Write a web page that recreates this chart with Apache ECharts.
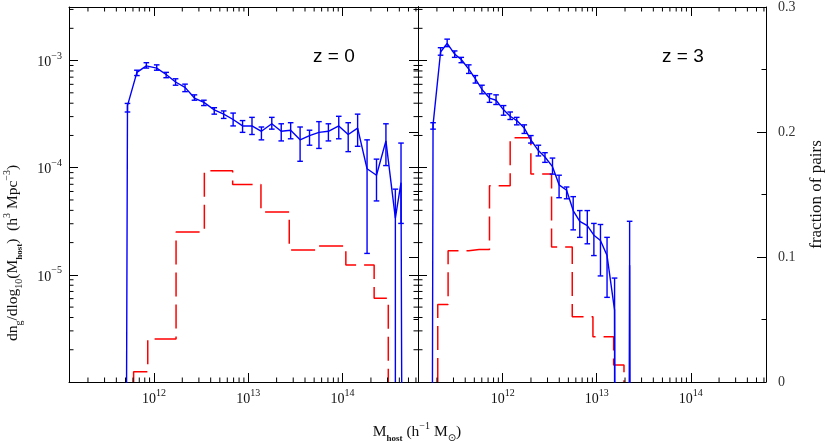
<!DOCTYPE html>
<html><head><meta charset="utf-8">
<script src="https://cdn.jsdelivr.net/npm/echarts@6/dist/echarts.min.js"></script>
<style>html,body{margin:0;padding:0;background:#fff}#c{width:830px;height:444px}</style>
</head><body><div id="c"></div>
<script>
// ---------- data (log10 values; null = empty bin / unbounded) ----------
const z0LogMass    = [11.62, 11.72, 11.82, 11.92, 12.03, 12.13, 12.23, 12.33, 12.43, 12.53, 12.64, 12.74, 12.84, 12.94, 13.04, 13.14, 13.25, 13.35, 13.45, 13.55, 13.65, 13.75, 13.85, 13.96, 14.06, 14.16, 14.26, 14.36, 14.46, 14.56, 14.62, 14.72];
const z0LogDensity = [null, -3.42, -3.11, -3.05, -3.07, -3.13, -3.20, -3.25, -3.35, -3.39, -3.46, -3.50, -3.55, -3.61, -3.61, -3.66, -3.59, -3.66, -3.65, -3.74, -3.70, -3.67, -3.66, -3.61, -3.69, -3.63, -4.01, -4.07, -3.75, -4.47, -4.14, null];
const z0LogUpper   = [null, -3.40, -3.09, -3.02, -3.04, -3.11, -3.17, -3.22, -3.32, -3.37, -3.44, -3.47, -3.49, -3.56, -3.53, -3.62, -3.53, -3.59, -3.58, -3.62, -3.65, -3.57, -3.59, -3.52, -3.58, -3.50, -3.74, -3.92, -3.59, -4.20, -3.77, null];
const z0LogLower   = [null, -3.48, -3.14, -3.07, -3.09, -3.16, -3.23, -3.29, -3.37, -3.42, -3.50, -3.54, -3.61, -3.67, -3.69, -3.74, -3.64, -3.75, -3.73, -3.94, -3.79, -3.82, -3.75, -3.73, -3.85, -3.80, -4.80, -4.31, -3.98, null, -4.52, null];

const z3LogMass    = [11.19, 11.26, 11.34, 11.41, 11.49, 11.56, 11.64, 11.71, 11.78, 11.86, 11.93, 12.01, 12.08, 12.15, 12.23, 12.30, 12.38, 12.45, 12.53, 12.60, 12.68, 12.75, 12.82, 12.90, 12.97, 13.04, 13.11, 13.19, 13.27, 13.35, 13.42];
const z3LogDensity = [null, -3.60, -2.92, -2.84, -2.94, -2.99, -3.08, -3.17, -3.27, -3.35, -3.37, -3.46, -3.52, -3.56, -3.63, -3.74, -3.84, -3.90, -3.99, -4.16, -4.21, -4.40, -4.50, -4.54, -4.63, -4.68, -4.82, -5.33, null, -4.91, null];
const z3LogUpper   = [null, -3.58, -2.88, -2.80, -2.91, -2.97, -3.04, -3.14, -3.23, -3.31, -3.32, -3.42, -3.48, -3.53, -3.60, -3.70, -3.79, -3.86, -3.91, -4.07, -4.18, -4.27, -4.40, -4.40, -4.52, -4.53, -4.65, -5.03, null, -4.50, null];
const z3LogLower   = [null, -3.64, -2.95, -2.87, -2.97, -3.02, -3.12, -3.21, -3.31, -3.39, -3.41, -3.51, -3.55, -3.60, -3.68, -3.77, -3.89, -3.95, -4.06, -4.28, -4.29, -4.58, -4.65, -4.71, -4.82, -5.01, -5.21, null, null, null, null];

const z0PairLogMass  = [11.785, 12.085, 12.385, 12.685, 12.985, 13.285, 13.585, 13.885, 14.185, 14.485];
const z0PairFraction = [0.0082, 0.0344, 0.120, 0.169, 0.158, 0.136, 0.1056, 0.1088, 0.0936, 0.067];
const z3PairLogMass  = [11.31, 11.53, 11.75, 11.97, 12.19, 12.41, 12.63, 12.85, 13.07, 13.29];
const z3PairFraction = [0.062, 0.105, 0.106, 0.157, 0.1955, 0.1664, 0.108, 0.0523, 0.0363, 0.0136];

const panelLabels = ['z = 0', 'z = 3'];
const xLogRange = [11.1, 14.8];
const yLogRange = [-6, -2.5];
const fractionRange = [0, 0.3];
const fractionTicks = ['0', '0.1', '0.2', '0.3'];

// ---------- helpers ----------
const pow10 = v => Math.pow(10, v);
const FLOOR = 1e-30; // stands for an empty bin on the log axis
const SERIF = '"Liberation Serif","DejaVu Serif",serif';
const SANS = '"Liberation Sans",Arial,sans-serif';

function lineData(m, d) { return m.map((x, i) => [pow10(x), d[i] == null ? FLOOR : pow10(d[i])]); }
function errData(m, d, up, lo) {
  const out = [];
  m.forEach((x, i) => {
    if (d[i] == null) return;
    const hi = pow10(up[i]);
    out.push([pow10(x), hi, lo[i] == null ? hi : pow10(lo[i]), lo[i] == null ? 1 : 0]);
  });
  return out;
}
function stepData(m, f) {
  const pts = m.map((x, i) => [pow10(x), f[i]]);
  return [[pts[0][0], 0]].concat(pts, [[pts[pts.length - 1][0], 0]]);
}
const minorMult = [2, 3, 4, 5, 6, 7, 8, 9];
function minorList(range) {
  const out = [];
  for (let e = Math.floor(range[0]); e <= Math.ceil(range[1]); e++)
    minorMult.forEach(m => { const v = m * pow10(e); const l = Math.log10(v); if (l > range[0] && l < range[1]) out.push(v); });
  return out;
}
const xMinor = minorList(xLogRange), yMinor = minorList(yLogRange);

const supRich = {
  b: { fontSize: 14, fontFamily: SERIF, color: '#111', lineHeight: 18, verticalAlign: 'bottom' },
  s: { fontSize: 10, fontFamily: SERIF, color: '#111', lineHeight: 11, verticalAlign: 'top' }
};
function powLabel(v) {
  const e = Math.round(Math.log10(v));
  return '{b|10}{s|' + String(e).replace('-', '\u2212') + '}';
}
const black = { color: '#000', width: 1 };

function xAx(gi, pos, labels) {
  return {
    type: 'log', logBase: 10, gridIndex: gi, position: pos,
    min: pow10(xLogRange[0]), max: pow10(xLogRange[1]),
    axisLine: { show: true, onZero: false, lineStyle: black },
    axisTick: { show: true, inside: true, length: 9, lineStyle: black },
    splitLine: { show: false }, minorTick: { show: false },
    axisLabel: { show: labels, margin: 6, formatter: powLabel, rich: supRich, showMinLabel: false, showMaxLabel: false }
  };
}
function yLog(gi, pos, labels) {
  return {
    type: 'log', logBase: 10, gridIndex: gi, position: pos,
    min: pow10(yLogRange[0]), max: pow10(yLogRange[1]),
    axisLine: { show: true, onZero: false, lineStyle: black },
    axisTick: { show: true, inside: true, length: 9, lineStyle: black },
    splitLine: { show: false }, minorTick: { show: false },
    axisLabel: { show: labels, margin: 7, formatter: powLabel, rich: supRich, showMinLabel: false, showMaxLabel: false }
  };
}
function yFrac(gi, labels) {
  return {
    type: 'value', gridIndex: gi, position: 'right',
    min: fractionRange[0], max: fractionRange[1], interval: 0.1,
    axisLine: { show: true, onZero: false, lineStyle: black },
    axisTick: { show: true, inside: true, length: 9, lineStyle: black },
    minorTick: { show: true, splitNumber: 2, length: 4.5, lineStyle: black },
    splitLine: { show: false },
    axisLabel: { show: labels, margin: 12, color: '#333', fontFamily: SERIF, fontSize: 14,
      formatter: (v) => fractionTicks[Math.round(v * 10)] },
    name: labels ? 'fraction of pairs' : '', nameLocation: 'middle', nameRotate: 90, nameGap: 42,
    nameTextStyle: { color: '#111', fontFamily: SERIF, fontSize: 17 }
  };
}

function errRender(params, api) {
  const cs = params.coordSys;
  const x = api.value(0), hi = api.value(1), lo = api.value(2), open = api.value(3);
  const t = api.coord([x, hi]);
  const px = t[0];
  const by = open ? cs.y + cs.height : api.coord([x, lo])[1];
  const w = 2.8, st = { stroke: '#0000ff', lineWidth: 1.4 };
  const ch = [
    { type: 'line', shape: { x1: px, y1: t[1], x2: px, y2: by }, style: st },
    { type: 'line', shape: { x1: px - w, y1: t[1], x2: px + w, y2: t[1] }, style: st }
  ];
  if (!open) ch.push({ type: 'line', shape: { x1: px - w, y1: by, x2: px + w, y2: by }, style: st });
  return { type: 'group', children: ch };
}
function xMinorRender(params, api) {
  const cs = params.coordSys;
  const x = api.coord([api.value(0), api.value(1)])[0];
  const b = cs.y + cs.height, t = cs.y, L = 4.5, st = { stroke: '#000', lineWidth: 1 };
  return { type: 'group', children: [
    { type: 'line', shape: { x1: x, y1: b, x2: x, y2: b - L }, style: st },
    { type: 'line', shape: { x1: x, y1: t, x2: x, y2: t + L }, style: st }
  ] };
}
function yMinorRender(bothSides) {
  return function (params, api) {
    const cs = params.coordSys;
    const y = api.coord([api.value(0), api.value(1)])[1];
    const l = cs.x, r = cs.x + cs.width, L = 4.5, st = { stroke: '#000', lineWidth: 1 };
    const ch = [{ type: 'line', shape: { x1: l, y1: y, x2: l + L, y2: y }, style: st }];
    if (bothSides) ch.push({ type: 'line', shape: { x1: r, y1: y, x2: r - L, y2: y }, style: st });
    return { type: 'group', children: ch };
  };
}

const redStyle = { color: '#ff0000', width: 1.5, type: [24, 8] };
const blueStyle = { color: '#0000ff', width: 1.4 };
const xMid = pow10(12.5), yMid = pow10(-4);

const option = {
  animation: false,
  backgroundColor: '#fff',
  grid: [
    { left: 69, top: 7, width: 349, height: 375, outerBoundsMode: 'none', containLabel: false },
    { left: 418, top: 7, width: 348, height: 375, outerBoundsMode: 'none', containLabel: false }
  ],
  xAxis: [xAx(0, 'bottom', true), xAx(0, 'top', false), xAx(1, 'bottom', true), xAx(1, 'top', false)],
  yAxis: [yLog(0, 'left', true), yLog(0, 'right', false), yFrac(0, false), yLog(1, 'left', false), yFrac(1, true)],
  graphic: [
    { type: 'text', x: 13, y: 253, rotation: Math.PI / 2, silent: true,
      style: { text: '{a|dn}{u|g}{a|/dlog}{u|10}{a|(M}{h|host}{a|)  (h}{p|3}{a| Mpc}{p|\u22123}{a|)}',
        align: 'center', verticalAlign: 'middle',
        rich: {
          a: { fontSize: 15.5, fontFamily: SERIF, fill: '#111', lineHeight: 22, verticalAlign: 'middle' },
          u: { fontSize: 10, fontFamily: SERIF, fill: '#111', lineHeight: 10, verticalAlign: 'bottom' },
          h: { fontSize: 9, fontFamily: SERIF, fontWeight: 'bold', fill: '#111', lineHeight: 10, verticalAlign: 'bottom' },
          p: { fontSize: 10, fontFamily: SERIF, fill: '#111', lineHeight: 10, verticalAlign: 'top' }
        } } },
    { type: 'text', x: 417, y: 432, silent: true,
      style: { text: '{a|M}{h|host}{a| (h}{p|\u22121}{a| M}{u|\u2299}{a|)}',
        align: 'center', verticalAlign: 'middle',
        rich: {
          a: { fontSize: 15.5, fontFamily: SERIF, fill: '#111', lineHeight: 22, verticalAlign: 'middle' },
          u: { fontSize: 10, fontFamily: '"DejaVu Sans",sans-serif', fill: '#111', lineHeight: 10, verticalAlign: 'bottom' },
          h: { fontSize: 9, fontFamily: SERIF, fontWeight: 'bold', fill: '#111', lineHeight: 10, verticalAlign: 'bottom' },
          p: { fontSize: 10, fontFamily: SERIF, fill: '#111', lineHeight: 10, verticalAlign: 'top' }
        } } },
    { type: 'text', x: 313, y: 57, silent: true,
      style: { text: panelLabels[0], fontSize: 19, fontFamily: SANS, fill: '#000', align: 'left', verticalAlign: 'middle' } },
    { type: 'text', x: 662, y: 57, silent: true,
      style: { text: panelLabels[1], fontSize: 19, fontFamily: SANS, fill: '#000', align: 'left', verticalAlign: 'middle' } }
  ],
  series: [
    { type: 'line', xAxisIndex: 0, yAxisIndex: 2, data: stepData(z0PairLogMass, z0PairFraction), step: 'middle', symbol: 'none', lineStyle: redStyle, silent: true, z: 2 },
    { type: 'line', xAxisIndex: 2, yAxisIndex: 4, data: stepData(z3PairLogMass, z3PairFraction), step: 'middle', symbol: 'none', lineStyle: redStyle, silent: true, z: 2 },
    { type: 'line', xAxisIndex: 0, yAxisIndex: 0, data: lineData(z0LogMass, z0LogDensity), symbol: 'none', lineStyle: blueStyle, silent: true, z: 3 },
    { type: 'line', xAxisIndex: 2, yAxisIndex: 3, data: lineData(z3LogMass, z3LogDensity), symbol: 'none', lineStyle: blueStyle, silent: true, z: 3 },
    { type: 'custom', xAxisIndex: 0, yAxisIndex: 0, data: errData(z0LogMass, z0LogDensity, z0LogUpper, z0LogLower), encode: { x: 0, y: 1 }, renderItem: errRender, silent: true, z: 3 },
    { type: 'custom', xAxisIndex: 2, yAxisIndex: 3, data: errData(z3LogMass, z3LogDensity, z3LogUpper, z3LogLower), encode: { x: 0, y: 1 }, renderItem: errRender, silent: true, z: 3 },
    { type: 'custom', xAxisIndex: 0, yAxisIndex: 0, data: xMinor.map(v => [v, yMid]), encode: { x: 0, y: 1 }, renderItem: xMinorRender, silent: true, z: 4 },
    { type: 'custom', xAxisIndex: 2, yAxisIndex: 3, data: xMinor.map(v => [v, yMid]), encode: { x: 0, y: 1 }, renderItem: xMinorRender, silent: true, z: 4 },
    { type: 'custom', xAxisIndex: 0, yAxisIndex: 0, data: yMinor.map(v => [xMid, v]), encode: { x: 0, y: 1 }, renderItem: yMinorRender(true), silent: true, z: 4 },
    { type: 'custom', xAxisIndex: 2, yAxisIndex: 3, data: yMinor.map(v => [xMid, v]), encode: { x: 0, y: 1 }, renderItem: yMinorRender(false), silent: true, z: 4 }
  ]
};
const chart = echarts.init(document.getElementById('c'), null, { renderer: 'canvas' });
chart.setOption(option);
</script>
</body></html>
